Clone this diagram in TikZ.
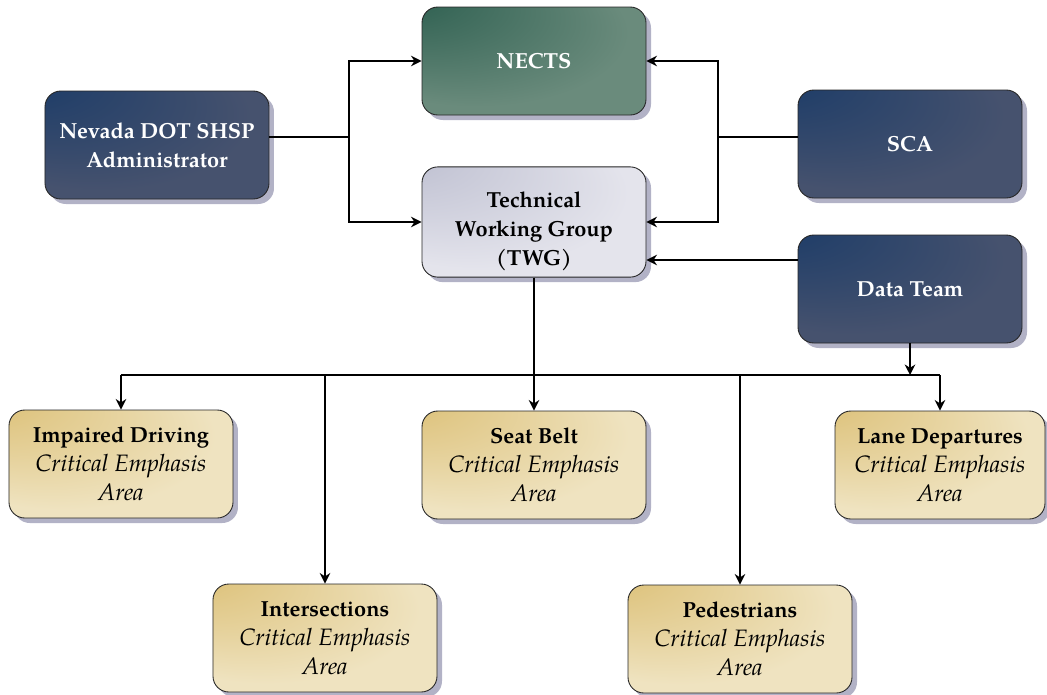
\documentclass[tikz,border=0pt]{standalone}
\usepackage{fontspec}
\setmainfont{texgyrepagella}[Extension=.otf,UprightFont=*-regular,BoldFont=*-bold,ItalicFont=*-italic,BoldItalicFont=*-bolditalic]
\usepackage{tikz}
\usetikzlibrary{positioning,arrows.meta,calc,shadows}
\usepackage{xcolor}
\definecolor{navydark}{HTML}{0F3566}
\definecolor{navylight}{HTML}{46526E}
\definecolor{greendark}{HTML}{1A5142}
\definecolor{greenlight}{HTML}{6A8B7C}
\definecolor{lilacdark}{HTML}{B2B4C8}
\definecolor{lilaclight}{HTML}{E4E4EC}
\definecolor{golddark}{HTML}{D6B560}
\definecolor{goldlight}{HTML}{EFE3C0}
\definecolor{shadowgray}{HTML}{B2B2C6}
% dark patch in the top left corner of each box
\newcommand{\cornershade}[3]{%
  \pgfdeclareradialshading{#1}{\pgfpoint{-40bp}{40bp}}{%
    color(0bp)=(#2); color(14bp)=(#2!55!#3); color(34bp)=(#3); color(50bp)=(#3)}}
\cornershade{navyshade}{navydark}{navylight}
\cornershade{greenshade}{greendark}{greenlight}
\cornershade{lilacshade}{lilacdark}{lilaclight}
\cornershade{goldshade}{golddark}{goldlight}
\tikzset{
  box/.style={
    rectangle, rounded corners=9pt, draw=black!85, line width=0.5pt,
    minimum width=4.48cm, minimum height=2.16cm, align=center,
    font=\fontsize{12.4}{16.5}\selectfont\bfseries,
    drop shadow={shadow xshift=0.1cm, shadow yshift=-0.1cm,
      fill=shadowgray, opacity=1}
  },
  navybox/.style={box, shading=navyshade, text=white},
  greenbox/.style={box, shading=greenshade, text=white},
  twgbox/.style={box, shading=lilacshade, text=black},
  ceabox/.style={box, shading=goldshade, text=black},
  conn/.style={line width=0.8pt, black},
  arr/.style={conn, -{Stealth[length=6pt,width=6pt]}}
}
\newcommand{\cea}[1]{#1\\{\fontsize{13.5}{16.5}\selectfont\mdseries\itshape Critical Emphasis}\\{\fontsize{13.5}{16.5}\selectfont\mdseries\itshape Area}}

\begin{document}
\begin{tikzpicture}[node distance=1.02cm]
\useasboundingbox (-10.68,-9.44) rectangle (10.26,4.44);

\node[twgbox] (twg) {\rule{0pt}{20pt}Technical\\Working Group\\(TWG)};
\node[greenbox, above=of twg] (nects) {NECTS};
\node[navybox] (nev) at (-7.54,1.54) {Nevada DOT SHSP\\Administrator};
\node[navybox] (sca) at (7.52,1.56) {SCA};
\node[navybox] (data) at (7.52,-1.34) {Data Team};

\node[ceabox, below=2.66cm of twg] (seat) {\cea{Seat Belt}};
\node[ceabox] (imp) at (-8.26,-4.84) {\cea{Impaired Driving}};
\node[ceabox, minimum width=4.2cm] (lane) at (8.12,-4.86) {\cea{Lane Departures}};
\node[ceabox] (inter) at (-4.18,-8.32) {\cea{Intersections}};
\node[ceabox] (ped) at (4.12,-8.34) {\cea{Pedestrians}};

\coordinate (jl) at (-3.7,1.7);
\coordinate (jr) at (3.68,1.7);
\coordinate (dt) at (0,-0.76);
\coordinate (bus) at (0,-3.06);

% upper links
\draw[conn] (nev.east |- jl) -- (jl);
\draw[arr] (jl) |- (nects.west);
\draw[arr] (jl) |- (twg.west);
\draw[conn] (sca.west |- jr) -- (jr);
\draw[arr] (jr) |- (nects.east);
\draw[arr] (jr) |- (twg.east);
\draw[arr] (data.west |- dt) -- (twg.east |- dt);

% bus to the emphasis areas
\draw[arr] (twg.south) -- (seat.north);
\draw[arr] (data.south) -- (data.south |- bus);
\draw[conn] (imp.north |- bus) -- (lane.north |- bus);
\foreach \n in {imp,inter,ped,lane}
  \draw[arr] (\n.north |- bus) -- (\n.north);
\end{tikzpicture}
\end{document}
